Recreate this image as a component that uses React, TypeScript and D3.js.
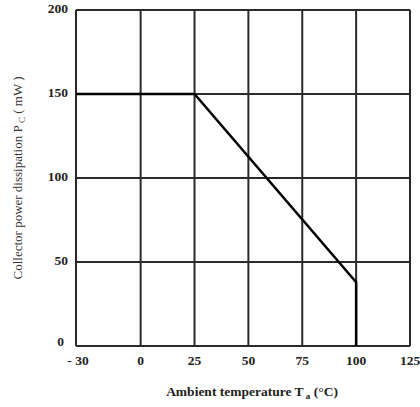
import React from 'react';
import * as d3 from 'd3';

// derating curve: ambient temperature (°C) vs collector power dissipation (mW)
const temps = [-30, 25, 100, 100];
const power = [150, 150, 38, 0];
const xTicks = [-30, 0, 25, 50, 75, 100, 125];
const yTicks = [0, 50, 100, 150, 200];

export default function App() {
  const width = 420,
    height = 407;
  const margin = { top: 10, right: 10, bottom: 61, left: 76 };

  const xScale = d3.scaleLinear().domain([-30, 125]).range([margin.left, width - margin.right]);
  const yScale = d3.scaleLinear().domain([0, 200]).range([height - margin.bottom, margin.top]);

  const pts = temps.map((t, i) => [t, power[i]] as [number, number]);
  const line = d3
    .line<[number, number]>()
    .x((d) => xScale(d[0]))
    .y((d) => yScale(d[1]));

  const font = "'Liberation Serif', 'DejaVu Serif', serif";
  const grid = '#2a2a2a';

  return (
    <svg
      width={width}
      height={height}
      style={{ position: 'absolute', left: 0, top: 0, background: '#fff' }}
      fontFamily={font}
    >
      {/* grid */}
      {xTicks.map((t) => (
        <line key={'x' + t} x1={xScale(t)} x2={xScale(t)} y1={yScale(0)} y2={yScale(200)} stroke={grid} strokeWidth={2} />
      ))}
      {yTicks.map((t) => (
        <line key={'y' + t} x1={xScale(-30)} x2={xScale(125)} y1={yScale(t)} y2={yScale(t)} stroke={grid} strokeWidth={2} />
      ))}

      {/* curve */}
      <path d={line(pts) || ''} fill="none" stroke="#000" strokeWidth={2.5} />

      {/* y tick labels */}
      {yTicks.map((t) => (
        <text
          key={'yl' + t}
          x={xScale(-30) - (t === 0 ? 12 : 8)}
          y={yScale(t) + (t === 0 ? -3 : 0)}
          textAnchor="end"
          dominantBaseline="middle"
          fontSize={13.5}
          fontWeight="bold"
          fill="#222"
        >
          {t}
        </text>
      ))}

      {/* x tick labels */}
      {xTicks.map((t) => (
        <text
          key={'xl' + t}
          x={t === -30 ? xScale(t) + 2 : xScale(t)}
          y={yScale(0) + 19}
          textAnchor="middle"
          fontSize={13.5}
          fontWeight="bold"
          fill="#222"
        >
          {t === -30 ? '- 30' : t}
        </text>
      ))}

      {/* axis titles */}
      <text x={252} y={396} textAnchor="middle" fontSize={13.5} fontWeight="bold" fill="#222">
        Ambient temperature T
        <tspan fontSize={9} dy={3}> a</tspan>
        <tspan dy={-3}> (°C)</tspan>
      </text>
      <text
        transform={`translate(22, ${(yScale(0) + yScale(200)) / 2}) rotate(-90)`}
        textAnchor="middle"
        fontSize={13}
        fill="#333"
      >
        Collector power dissipation P
        <tspan fontSize={9} dy={3}> C</tspan>
        <tspan dy={-3}> ( mW )</tspan>
      </text>
    </svg>
  );
}
